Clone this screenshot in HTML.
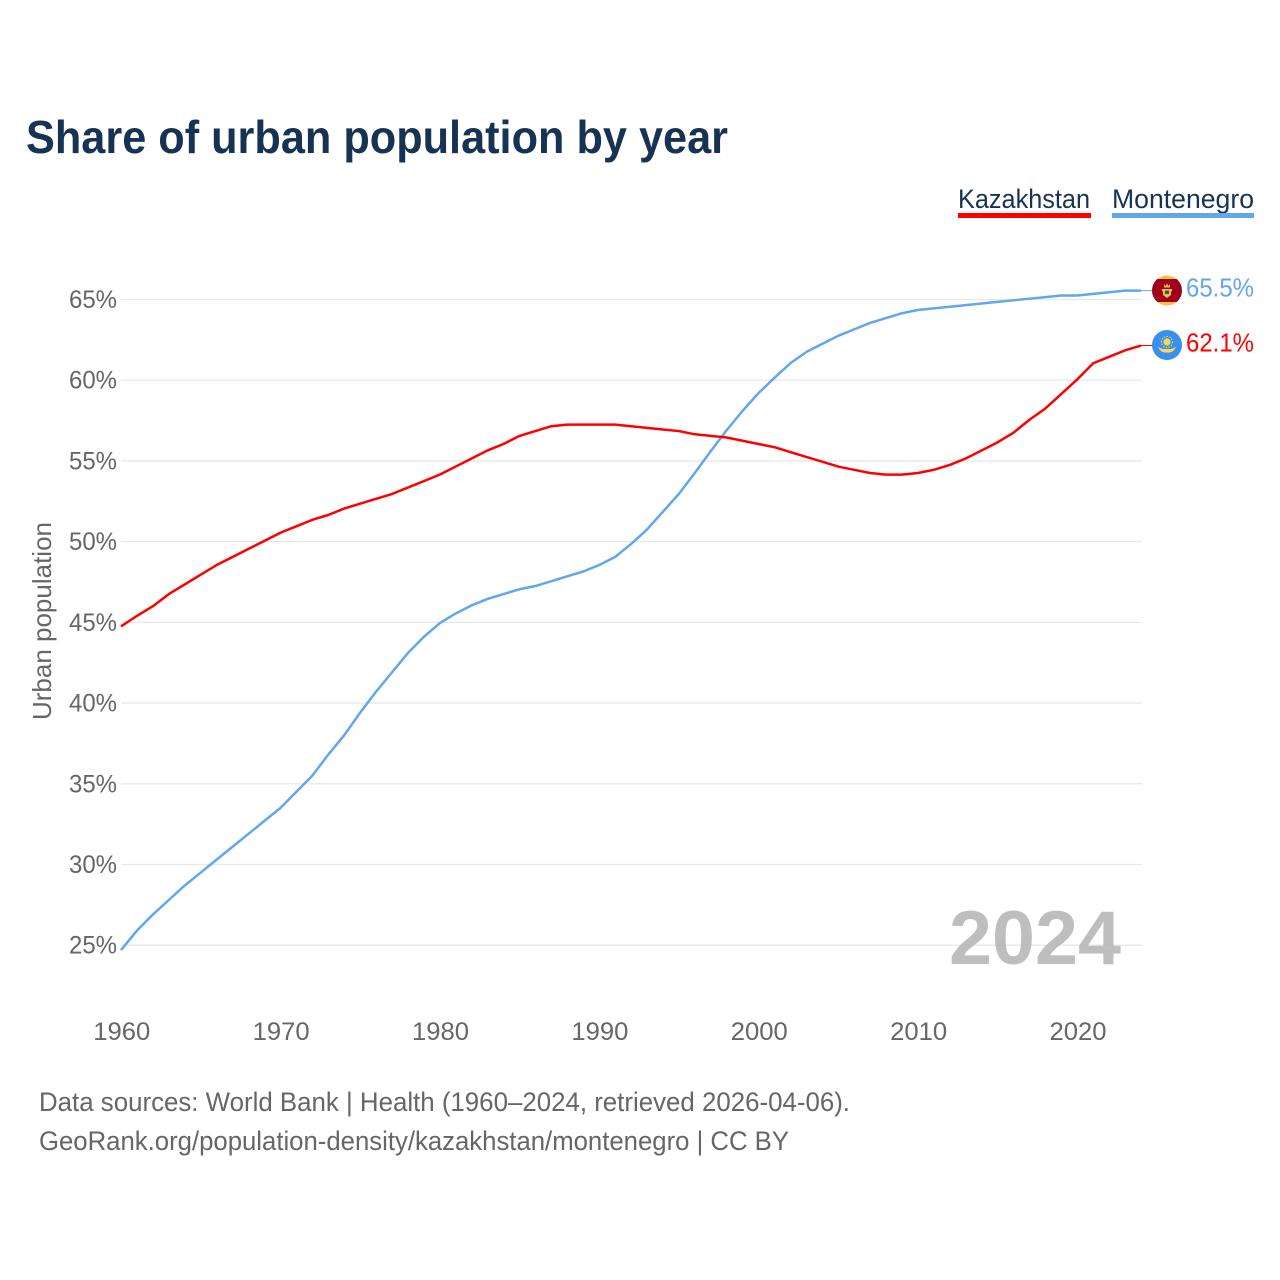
<!DOCTYPE html>
<html lang="en">
<head>
<meta charset="utf-8">
<title>Share of urban population by year</title>
<style>
html,body{margin:0;padding:0;background:#fff;width:1280px;height:1280px;overflow:hidden}
svg{display:block;font-family:"Liberation Sans",sans-serif}
</style>
</head>
<body>
<svg id="chart" width="1280" height="1280" viewBox="0 0 1280 1280" xmlns="http://www.w3.org/2000/svg">
  <defs>
    <clipPath id="flag-clip-me"><circle cx="1167" cy="290.5" r="15"/></clipPath>
  </defs>
  <rect width="1280" height="1280" fill="#fff"/>
  <text x="26" y="153" font-size="46" font-weight="700" fill="#173354" textLength="702" lengthAdjust="spacingAndGlyphs">Share of urban population by year</text>

  <g>
    <text x="958" y="208" font-size="27" fill="#173354" textLength="132" lengthAdjust="spacingAndGlyphs">Kazakhstan</text>
    <rect x="958" y="213" width="133" height="5" fill="#ff0000"/>
  </g>
  <g>
    <text x="1112" y="208" font-size="27" fill="#173354" textLength="142" lengthAdjust="spacingAndGlyphs">Montenegro</text>
    <rect x="1112" y="213" width="142" height="5" fill="#62a6ee"/>
  </g>

  <g id="grid"></g>
  <g id="yticks"></g>
  <g id="xticks"></g>

  <text transform="translate(51,621) rotate(-90)" text-anchor="middle" font-size="26" fill="#666" textLength="198" lengthAdjust="spacingAndGlyphs">Urban population</text>

  <text x="1121" y="964" text-anchor="end" font-size="76" font-weight="700" fill="#b3b3b3" fill-opacity="0.85" textLength="172" lengthAdjust="spacingAndGlyphs">2024</text>

  <g id="series"></g>
  <g id="ends"></g>

  <g>
    <g clip-path="url(#flag-clip-me)">
      <rect x="1152" y="275" width="30" height="31" fill="#f2c33f"/>
      <rect x="1152" y="279" width="30" height="23" fill="#a0001e"/>
    </g>
    <path d="M1164 284 L1165.5 286 L1167 283.5 L1168.5 286 L1170 284 L1170 287.5 H1164 Z" fill="#efc13c"/>
    <path d="M1161.5 289 H1172.5 L1171 292.5 V295 L1167 298 L1163 295 V292.5 Z" fill="#efc13c"/>
    <rect x="1165" y="290.5" width="4" height="3.5" fill="#1f5c7a"/>
  </g>
  <g>
    <circle cx="1167" cy="345" r="15" fill="#3a90ee"/>
    <circle cx="1167" cy="342" r="3.6" fill="#fbd655"/>
    <circle cx="1167" cy="342" r="5.5" fill="none" stroke="#fbd655" stroke-width="1" stroke-dasharray="1.5 1.3"/>
    <path d="M1158 347 L1163 349 H1171 L1176 347 Q1173 353 1169 352.5 H1165 Q1161 353 1158 347 Z" fill="#fbd655"/>
  </g>

  <text x="39" y="1111" font-size="27" fill="#666" textLength="811" lengthAdjust="spacingAndGlyphs">Data sources: World Bank | Health (1960–2024, retrieved 2026-04-06).</text>
  <text x="39" y="1150" font-size="27" fill="#666" textLength="750" lengthAdjust="spacingAndGlyphs">GeoRank.org/population-density/kazakhstan/montenegro | CC BY</text>
</svg>
<script>
var years = [1960,1961,1962,1963,1964,1965,1966,1967,1968,1969,1970,1971,1972,1973,1974,1975,1976,1977,1978,1979,1980,1981,1982,1983,1984,1985,1986,1987,1988,1989,1990,1991,1992,1993,1994,1995,1996,1997,1998,1999,2000,2001,2002,2003,2004,2005,2006,2007,2008,2009,2010,2011,2012,2013,2014,2015,2016,2017,2018,2019,2020,2021,2022,2023,2024];
var kazakhstan = [44.75,45.4,46.0,46.75,47.35,47.95,48.55,49.05,49.55,50.05,50.55,50.95,51.35,51.65,52.05,52.35,52.65,52.95,53.35,53.75,54.15,54.65,55.15,55.65,56.05,56.55,56.85,57.15,57.25,57.25,57.25,57.25,57.15,57.05,56.95,56.85,56.65,56.55,56.45,56.25,56.05,55.85,55.55,55.25,54.95,54.65,54.45,54.25,54.15,54.15,54.25,54.45,54.75,55.15,55.65,56.15,56.75,57.55,58.25,59.15,60.05,61.05,61.45,61.85,62.15];
var montenegro = [24.7,25.9,26.9,27.8,28.7,29.5,30.3,31.1,31.9,32.7,33.5,34.5,35.5,36.8,38.0,39.4,40.7,41.9,43.1,44.1,44.95,45.55,46.05,46.45,46.75,47.05,47.25,47.55,47.85,48.15,48.55,49.05,49.85,50.75,51.85,52.95,54.25,55.6,56.9,58.1,59.2,60.15,61.05,61.75,62.25,62.75,63.15,63.55,63.85,64.15,64.35,64.45,64.55,64.65,64.75,64.85,64.95,65.05,65.15,65.25,65.25,65.35,65.45,65.55,65.55];
var yTickValues = [25,30,35,40,45,50,55,60,65];
var xTickValues = [1960,1970,1980,1990,2000,2010,2020];
var endLabels = ["65.5%","62.1%"];

var NS = "http://www.w3.org/2000/svg";
function xScale(year){ return 121 + (year - 1960) * (1141 - 121) / 64; }
function yScale(v){ return 945.2 - (v - 25) * (945.2 - 299.5) / 40; }
function make(tag, attrs, parent, text){
  var el = document.createElementNS(NS, tag);
  for (var k in attrs) el.setAttribute(k, attrs[k]);
  if (text !== undefined) el.textContent = text;
  parent.appendChild(el);
  return el;
}
var grid = document.getElementById('grid');
var yticks = document.getElementById('yticks');
var xticks = document.getElementById('xticks');
var series = document.getElementById('series');
var ends = document.getElementById('ends');

yTickValues.forEach(function(v){
  var line = make('line', {x1:121, x2:1142, y1:yScale(v), y2:yScale(v), stroke:'#e8e8e8', 'stroke-width':1.3}, grid);
  
  
  var t = make('text', {x:117, y:yScale(v)+8.5, 'text-anchor':'end', 'font-size':25, fill:'#666', textLength:48, lengthAdjust:'spacingAndGlyphs'}, yticks, v + '%');
  
  
});
xTickValues.forEach(function(y){
  var t = make('text', {x:xScale(y)+0.8, y:1040, 'text-anchor':'middle', 'font-size':25, fill:'#666', textLength:57, lengthAdjust:'spacingAndGlyphs'}, xticks, String(y));
  
  
});
function linePath(vals){
  return vals.map(function(v,i){ return (i ? 'L' : 'M') + xScale(years[i]).toFixed(2) + ' ' + yScale(v).toFixed(2); }).join(' ');
}
var pathM = make('path', {d:linePath(montenegro), fill:'none', stroke:'#62a6ee', 'stroke-width':2.5, 'stroke-linejoin':'round'}, series);


var pathK = make('path', {d:linePath(kazakhstan), fill:'none', stroke:'#ff0000', 'stroke-width':2.5, 'stroke-linejoin':'round'}, series);



var lastX = xScale(years[years.length-1]);
var c1 = make('line', {x1:lastX, x2:1153, y1:yScale(montenegro[montenegro.length-1]), y2:yScale(montenegro[montenegro.length-1]), stroke:'#62a6ee', 'stroke-width':1}, ends);


var c2 = make('line', {x1:lastX, x2:1153, y1:yScale(kazakhstan[kazakhstan.length-1]), y2:yScale(kazakhstan[kazakhstan.length-1]), stroke:'#ff0000', 'stroke-width':1}, ends);


var l1 = make('text', {x:1186, y:296.5, 'font-size':25.5, fill:'#62a6ee', textLength:68, lengthAdjust:'spacingAndGlyphs'}, ends, endLabels[0]);


var l2 = make('text', {x:1186, y:351.5, 'font-size':25.5, fill:'#ff0000', textLength:68, lengthAdjust:'spacingAndGlyphs'}, ends, endLabels[1]);


</script>
</body>
</html>
